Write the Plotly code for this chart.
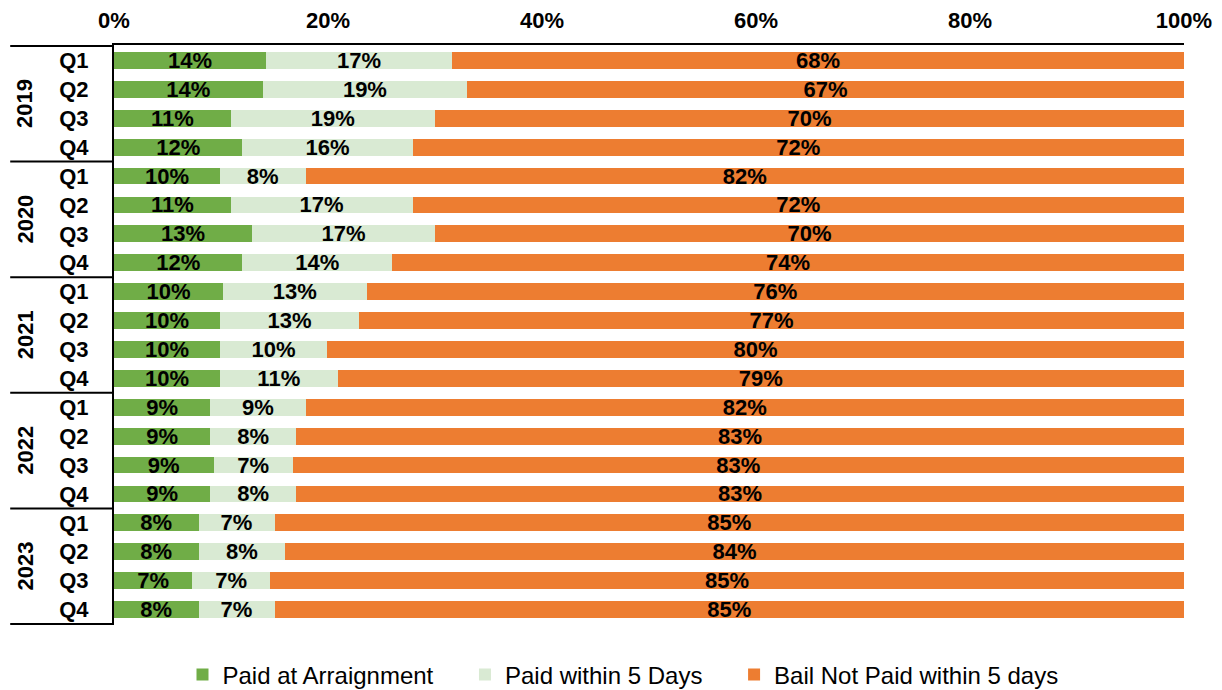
import plotly.graph_objects as go

years = ["2019", "2020", "2021", "2022", "2023"]
quarters = ["Q1", "Q2", "Q3", "Q4"]

paid_arraignment = [14.2, 13.9, 10.9, 12.0, 9.9, 10.9, 12.9, 12.0, 10.2, 9.9,
                    9.9, 9.9, 9.0, 9.0, 9.3, 9.0, 7.9, 7.9, 7.3, 7.9]
paid_5days = [17.4, 19.1, 19.1, 15.9, 8.0, 17.0, 17.1, 14.0, 13.4, 13.0,
              10.0, 11.0, 8.9, 8.0, 7.4, 8.0, 7.1, 8.1, 7.3, 7.1]
not_paid = [68.4, 67.0, 70.0, 72.1, 82.1, 72.1, 70.0, 74.0, 76.4, 77.1,
            80.1, 79.1, 82.1, 83.0, 83.3, 83.0, 85.0, 84.0, 85.4, 85.0]

series_names = ["Paid at Arraignment", "Paid within 5 Days", "Bail Not Paid within 5 days"]
series_colors = ["#70AD47", "#D9EAD3", "#ED7D31"]

x_ticks = [0, 20, 40, 60, 80, 100]

cats = [f"{y} {q}" for y in years for q in quarters]
qlabels = [q for y in years for q in quarters]

FONT = "Liberation Sans, Arial, sans-serif"
PAD = "\u00a0" * 4

fig = go.Figure()
for k, (name, vals, col) in enumerate(zip(series_names, [paid_arraignment, paid_5days, not_paid], series_colors)):
    fig.add_trace(go.Bar(
        y=cats, x=vals, orientation="h",
        name=name + (PAD if k < len(series_names) - 1 else ""),
        marker=dict(color=col, line=dict(width=0)),
        texttemplate="%{x:.0f}%", textposition="inside",
        insidetextanchor="middle",
        textfont=dict(family=FONT, size=22, color="black", weight="bold"),
        hoverinfo="skip",
    ))

shapes = []
n = len(quarters)
for i in range(len(years) + 1):
    yv = i * n - 0.5
    shapes.append(dict(type="line", xref="paper", yref="y", x0=-0.097, x1=0,
                       y0=yv, y1=yv, line=dict(color="black", width=2)))

annotations = []
for i, yr in enumerate(years):
    annotations.append(dict(text=yr, xref="paper", yref="y", x=-0.083, y=i * n + 1.5,
                            textangle=-90, showarrow=False, xanchor="center", yanchor="middle",
                            font=dict(family=FONT, size=22, color="black", weight="bold")))

fig.update_layout(
    barmode="stack",
    bargap=0.42,
    width=1214, height=682,
    margin=dict(l=106, r=38, t=37, b=65, autoexpand=False),
    plot_bgcolor="white", paper_bgcolor="white",
    showlegend=True,
    legend=dict(orientation="h", x=0.4757, xanchor="center", y=-0.086, yanchor="middle",
                font=dict(family=FONT, size=24, color="black"), traceorder="normal"),
    uniformtext=dict(minsize=22, mode="show"),
    shapes=shapes,
    annotations=annotations,
    xaxis=dict(side="top", range=[0, 100], tickvals=x_ticks,
               ticktext=[f"{v}%" for v in x_ticks], automargin=False,
               showgrid=False, zeroline=False, showline=True, linecolor="black",
               linewidth=2, ticks="", ticklabelstandoff=6,
               tickfont=dict(family=FONT, size=22, color="black", weight="bold")),
    yaxis=dict(autorange="reversed", categoryorder="array", categoryarray=cats,
               tickvals=cats, ticktext=qlabels, showgrid=False, zeroline=False,
               showline=True, linecolor="black", linewidth=2, ticks="",
               ticklabelstandoff=19, automargin=False,
               tickfont=dict(family=FONT, size=22, color="black", weight="bold")),
)

fig.write_html("out.html")
